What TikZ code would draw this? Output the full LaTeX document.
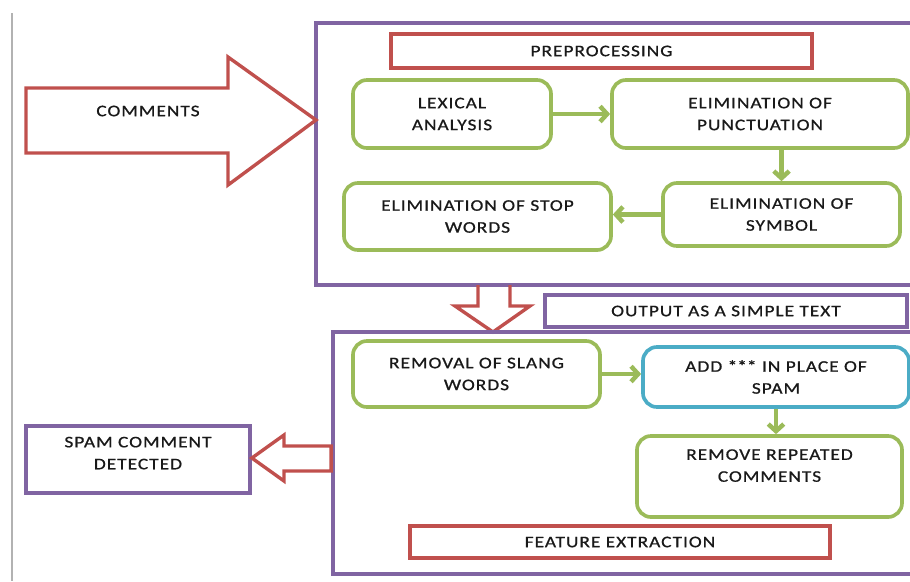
\documentclass[tikz,border=0pt]{standalone}
\usepackage{fontspec}
\setmainfont{Carlito}[FakeStretch=1.2,LetterSpace=6,FakeBold=0.8]
\usepackage{tikz}
\usepackage{xcolor}
\usetikzlibrary{positioning}
\usetikzlibrary{arrows.meta}

\definecolor{framepurple}{RGB}{128,100,162}
\definecolor{boxred}{RGB}{192,80,77}
\definecolor{boxgreen}{RGB}{155,187,89}
\definecolor{boxblue}{RGB}{75,172,198}
\definecolor{textgray}{RGB}{25,25,25}

\tikzset{
	every node/.style={font=\fontsize{11.5}{15.6}\selectfont,text=textgray,align=center},
	frame/.style={draw=framepurple,line width=2.6pt,inner sep=0pt},
	titlebox/.style={draw=boxred,line width=2.6pt,inner sep=0pt},
	stepbox/.style={draw=boxgreen,line width=2.6pt,rounded corners=10pt,inner sep=0pt},
	flow/.style={draw=boxgreen,line width=3.2pt,-{Straight Barb[length=5pt,width=11pt]}},
	blockarrow/.style={draw=boxred,line width=2.4pt,line join=miter}
}

\begin{document}
\begin{tikzpicture}[x=0.025cm,y=-0.025cm]
		\useasboundingbox (0,0) rectangle (910,581);
		\clip (0,0) rectangle (910,581);
		\draw[black!30,line width=1.2pt] (12,13) -- (12,581);

		% preprocessing stage
		\node[frame,minimum width=15.225cm,minimum height=6.55cm] (pre) at (620.5,154) {};
		\node[titlebox,minimum width=10.525cm,minimum height=0.85cm] (prep) at (601.5,51) {PREPROCESSING};
		\node[stepbox,minimum width=4.95cm,minimum height=1.7cm] (lexical) at (452,114) {LEXICAL\\ANALYSIS};
		\node[stepbox,minimum width=7.4cm,minimum height=1.7cm] (punct) at (760,114) {ELIMINATION OF\\PUNCTUATION};
		\node[stepbox,minimum width=5.925cm,minimum height=1.575cm] (symbol) at (781.5,214.5) {ELIMINATION OF\\SYMBOL};
		\node[stepbox,minimum width=6.675cm,minimum height=1.675cm] (stop) at (477.5,216.5) {ELIMINATION OF STOP\\WORDS};
		\draw[flow] (lexical) -- (punct);
		\draw[flow] (symbol |- punct.south) -- (symbol.north);
		\draw[flow] (symbol.west) -- (symbol.west -| stop.east);

		% input arrow
		\draw[blockarrow] (26,88) -- (228,88) -- (228,57) -- (316,120) -- (228,185) -- (228,153) -- (26,153) -- cycle;
		\node (comments) at (148,111) {COMMENTS};

		% feature extraction stage
		\node[frame,minimum width=9.05cm,minimum height=0.8cm] (output) at (726,311) {OUTPUT AS A SIMPLE TEXT};
		\draw[blockarrow] (478,285) -- (478,306) -- (455,306) -- (493,332) -- (530,306) -- (510,306) -- (510,285);
		\node[frame,minimum width=14.8cm,minimum height=6.05cm] (feat) at (629,453) {};
		\node[stepbox,minimum width=6.175cm,minimum height=1.65cm] (slang) at (476.5,374) {REMOVAL OF SLANG\\WORDS};
		\node[stepbox,draw=boxblue,minimum width=6.65cm,minimum height=1.5cm] (stars) at (776,377) {ADD {\addfontfeature{LetterSpace=0}***} IN PLACE OF\\SPAM};
		\node[stepbox,minimum width=6.625cm,minimum height=2.025cm] (repeat) at (769.5,476.5) {REMOVE REPEATED\\COMMENTS\\ \mbox{}};
		\node[titlebox,minimum width=10.5cm,minimum height=0.8cm] (featx) at (620,542) {FEATURE EXTRACTION};
		\draw[flow] (slang.east) -- (slang.east -| stars.west);
		\draw[flow] (stars.south) -- (stars.south |- repeat.north);

		% result
		\node[frame,minimum width=5.6cm,minimum height=1.675cm] (spam) at (138,459.5) {SPAM COMMENT\\DETECTED\\[-6.4pt]\mbox{}};
		\draw[blockarrow] (feat.west |- 0,446) -- (284,446) -- (284,435) -- (spam.east |- 0,458) -- (284,481) -- (284,471) -- (feat.west |- 0,471) -- cycle;
	\end{tikzpicture}
\end{document}
